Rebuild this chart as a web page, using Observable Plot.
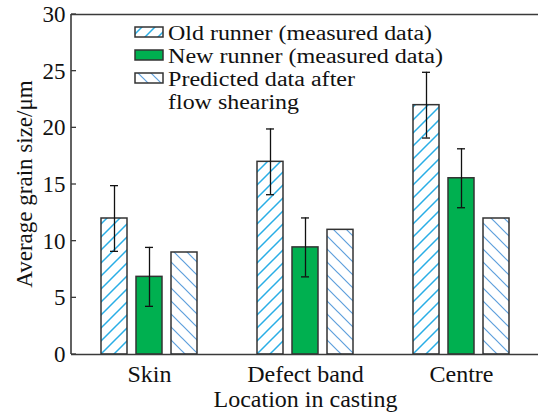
<!DOCTYPE html>
<html>
<head>
<meta charset="utf-8">
<script src="https://cdn.jsdelivr.net/npm/d3@7"></script>
<script src="https://cdn.jsdelivr.net/npm/@observablehq/plot@0.6"></script>
<style>
  html, body { margin: 0; padding: 0; background: white; }
  #chart { width: 538px; height: 412px; }
  #chart svg, #chart svg text { font-family: 'Liberation Serif', serif; }
</style>
</head>
<body>
<div id="chart"></div>
<script>
// ---- data ----
const locations = ["Skin", "Defect band", "Centre"];
const seriesKeys = ["old", "new", "pred"];
const seriesLabels = ["Old runner (measured data)", "New runner (measured data)", "Predicted data after", "flow shearing"];
const oldValues = [12, 17, 22];
const oldErrors = [2.9, 2.9, 2.9];
const newValues = [6.85, 9.45, 15.55];
const newErrors = [2.6, 2.6, 2.6];
const predValues = [9, 11, 12];
const yTicks = [0, 5, 10, 15, 20, 25, 30];

// ---- table built from the arrays ----
const rows = [];
locations.forEach((loc, i) => {
  rows.push({loc, key: "old", value: oldValues[i], err: oldErrors[i]});
  rows.push({loc, key: "new", value: newValues[i], err: newErrors[i]});
  rows.push({loc, key: "pred", value: predValues[i], err: null});
});
const errRows = rows.filter(d => d.err != null);

const font = "'Liberation Serif', serif";
const axisColor = "#3a3a3a";

const chart = Plot.plot({
  width: 538,
  height: 412,
  marginLeft: 71,
  marginRight: -1,
  marginTop: 14,
  marginBottom: 58,
  style: "font-family: 'Liberation Serif', serif; font-size: 23px; color: #111; background: white; overflow: visible;",
  fx: {domain: locations, padding: 0},
  x: {domain: seriesKeys, paddingInner: 0.257, paddingOuter: 0.857, axis: null},
  y: {domain: [0, 30], axis: null},
  marks: [
    Plot.barY(rows.filter(d => d.key === "old"), {fx: "loc", x: "key", y: "value", fill: "url(#pat-old)", stroke: "#333", strokeWidth: 1.5}),
    Plot.barY(rows.filter(d => d.key === "new"), {fx: "loc", x: "key", y: "value", fill: "#00b050", stroke: "#333", strokeWidth: 1.5}),
    Plot.barY(rows.filter(d => d.key === "pred"), {fx: "loc", x: "key", y: "value", fill: "url(#pat-pred)", stroke: "#333", strokeWidth: 1.5}),
    Plot.ruleX(errRows, {fx: "loc", x: "key", y1: d => d.value - d.err, y2: d => d.value + d.err, stroke: "#111", strokeWidth: 1.3}),
    Plot.tickY(errRows, {fx: "loc", x: "key", y: d => d.value - d.err, inset: 9, stroke: "#111", strokeWidth: 1.3}),
    Plot.tickY(errRows, {fx: "loc", x: "key", y: d => d.value + d.err, inset: 9, stroke: "#111", strokeWidth: 1.3}),
    Plot.ruleY([0, 30], {stroke: axisColor, strokeWidth: 1.6}),
    Plot.axisY({ticks: yTicks, tickSize: 0, tickPadding: 6, tickFormat: d3.format("d"), fontSize: 23, label: null}),
    Plot.axisFx({anchor: "bottom", tickSize: 0, tickPadding: 10, fontSize: 24,
      label: "Location in casting", labelAnchor: "center", labelOffset: 52, labelArrow: "none"})
  ]
});

document.getElementById("chart").appendChild(chart);

// ---- patterns, left spine, inward ticks, y title, legend ----
const svg = d3.select(chart);
const defs = svg.insert("defs", ":first-child");
const p = 13;
const po = defs.append("pattern").attr("id", "pat-old").attr("patternUnits", "userSpaceOnUse")
  .attr("width", p).attr("height", p);
po.append("rect").attr("width", p).attr("height", p).attr("fill", "white");
po.append("path").attr("d", `M0,${p} L${p},0 M${-p/2},${p/2} L${p/2},${-p/2} M${p/2},${p*1.5} L${p*1.5},${p/2}`)
  .attr("stroke", "#29aee6").attr("stroke-width", 1.5);
const pp = defs.append("pattern").attr("id", "pat-pred").attr("patternUnits", "userSpaceOnUse")
  .attr("width", p).attr("height", p);
pp.append("rect").attr("width", p).attr("height", p).attr("fill", "white");
pp.append("path").attr("d", `M0,0 L${p},${p} M${-p/2},${p/2} L${p/2},${p*1.5} M${p/2},${-p/2} L${p*1.5},${p/2}`)
  .attr("stroke", "#5d9fdc").attr("stroke-width", 1.2);

const yScale = chart.scale("y");
const x0 = 71;
const g = svg.append("g");
g.append("line").attr("x1", x0).attr("x2", x0).attr("y1", yScale.apply(0)).attr("y2", yScale.apply(30))
  .attr("stroke", axisColor).attr("stroke-width", 1.6);
yTicks.forEach(t => {
  g.append("line").attr("x1", x0).attr("x2", x0 + 5).attr("y1", yScale.apply(t)).attr("y2", yScale.apply(t))
    .attr("stroke", axisColor).attr("stroke-width", 1.3);
});
const yMid = (yScale.apply(0) + yScale.apply(30)) / 2;
svg.append("text").attr("transform", `translate(32,${yMid}) rotate(-90)`)
  .attr("text-anchor", "middle").attr("font-size", 23).attr("fill", "#111")
  .text("Average grain size/μm");

const legend = svg.append("g").attr("font-size", 20).attr("fill", "#111")
  .attr("text-anchor", "start");
const swatchFills = ["url(#pat-old)", "#00b050", "url(#pat-pred)"];
const legendWidths = [264, 275, 187, 131];
const lx = 135, ly = 27, step = 23;
swatchFills.forEach((f, i) => {
  legend.append("rect").attr("x", lx).attr("y", ly + i * step).attr("width", 28).attr("height", 10)
    .attr("fill", f).attr("stroke", "#333").attr("stroke-width", 1.5);
});
seriesLabels.forEach((s, i) => {
  legend.append("text").attr("x", lx + 33).attr("y", ly + 13 + i * step)
    .attr("textLength", legendWidths[i]).attr("lengthAdjust", "spacingAndGlyphs").text(s);
});
svg.selectAll("text").attr("font-family", font);
</script>
</body>
</html>
